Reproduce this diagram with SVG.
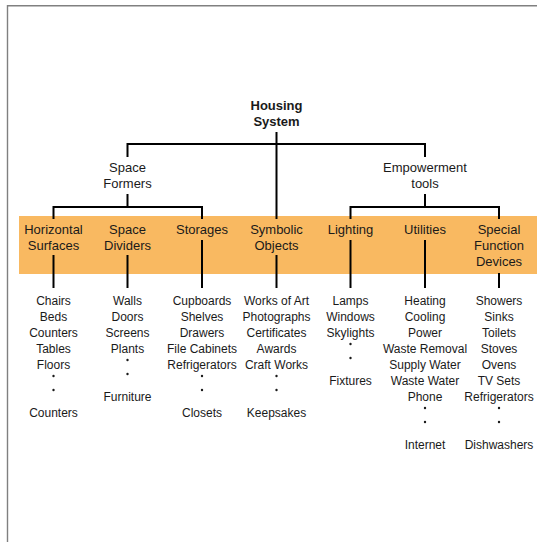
<svg xmlns="http://www.w3.org/2000/svg" width="537" height="542" viewBox="0 0 537 542">
<style>
text{font-family:"Liberation Sans",Arial,sans-serif;fill:#1a1a1a;text-anchor:middle}
.t{font-size:13px}
.b{font-size:13px;font-weight:bold}
.l{font-size:12px}
.c path{stroke:#000;stroke-width:2;fill:none}
.d{fill:#1a1a1a}
</style>
<defs><circle id="dot" r="1.2" class="d"/></defs>
<rect width="537" height="542" fill="#fff"/>
<path d="M7.5,542 V5.7 H537" stroke="#808080" stroke-width="1.4" fill="none"/>
<rect id="band" x="19" y="216" width="518" height="58" fill="#F9B961"/>
<g class="c" id="connectors">
<path d="M276.5,132 V219"/>
<path d="M127.5,157 V144 H425 V157"/>
<path d="M127.5,194 V207"/>
<path d="M53.5,219 V207 H202 V219"/>
<path d="M425,194 V207"/>
<path d="M350.5,219 V207 H499 V219"/>
<path d="M53.5,255 V288"/>
<path d="M127.5,255 V288"/>
<path d="M202,240 V288"/>
<path d="M276.5,255 V288"/>
<path d="M350.5,240 V288"/>
<path d="M425,240 V288"/>
<path d="M499,273 V288"/>
</g>
<g id="housing"><text class="b" x="276.5" y="110">Housing</text><text class="b" x="276.5" y="126">System</text></g>
<g id="space-formers"><text class="t" x="127.5" y="172">Space</text><text class="t" x="127.5" y="188">Formers</text></g>
<g id="empowerment"><text class="t" x="425" y="172">Empowerment</text><text class="t" x="425" y="188">tools</text></g>
<g id="horizontal"><text class="t" x="53.5" y="234">Horizontal</text><text class="t" x="53.5" y="250">Surfaces</text></g>
<g id="dividers"><text class="t" x="127.5" y="234">Space</text><text class="t" x="127.5" y="250">Dividers</text></g>
<g id="storages"><text class="t" x="202" y="234">Storages</text></g>
<g id="symbolic"><text class="t" x="276.5" y="234">Symbolic</text><text class="t" x="276.5" y="250">Objects</text></g>
<g id="lighting"><text class="t" x="350.5" y="234">Lighting</text></g>
<g id="utilities"><text class="t" x="425" y="234">Utilities</text></g>
<g id="special"><text class="t" x="499" y="234">Special</text><text class="t" x="499" y="250">Function</text><text class="t" x="499" y="266">Devices</text></g>
<g id="list-horizontal">
<text class="l" x="53.5" y="305">Chairs</text><text class="l" x="53.5" y="321">Beds</text><text class="l" x="53.5" y="337">Counters</text><text class="l" x="53.5" y="353">Tables</text><text class="l" x="53.5" y="369">Floors</text>
<use href="#dot" x="53.5" y="376"/><use href="#dot" x="53.5" y="390"/><text class="l" x="53.5" y="417">Counters</text>
</g>
<g id="list-dividers">
<text class="l" x="127.5" y="305">Walls</text><text class="l" x="127.5" y="321">Doors</text><text class="l" x="127.5" y="337">Screens</text><text class="l" x="127.5" y="353">Plants</text>
<use href="#dot" x="127.5" y="360"/><use href="#dot" x="127.5" y="374"/><text class="l" x="127.5" y="401">Furniture</text>
</g>
<g id="list-storages">
<text class="l" x="202" y="305">Cupboards</text><text class="l" x="202" y="321">Shelves</text><text class="l" x="202" y="337">Drawers</text><text class="l" x="202" y="353">File Cabinets</text><text class="l" x="202" y="369">Refrigerators</text>
<use href="#dot" x="202" y="376"/><use href="#dot" x="202" y="390"/><text class="l" x="202" y="417">Closets</text>
</g>
<g id="list-symbolic">
<text class="l" x="276.5" y="305">Works of Art</text><text class="l" x="276.5" y="321">Photographs</text><text class="l" x="276.5" y="337">Certificates</text><text class="l" x="276.5" y="353">Awards</text><text class="l" x="276.5" y="369">Craft Works</text>
<use href="#dot" x="276.5" y="376"/><use href="#dot" x="276.5" y="390"/><text class="l" x="276.5" y="417">Keepsakes</text>
</g>
<g id="list-lighting">
<text class="l" x="350.5" y="305">Lamps</text><text class="l" x="350.5" y="321">Windows</text><text class="l" x="350.5" y="337">Skylights</text>
<use href="#dot" x="350.5" y="344"/><use href="#dot" x="350.5" y="358"/><text class="l" x="350.5" y="385">Fixtures</text>
</g>
<g id="list-utilities">
<text class="l" x="425" y="305">Heating</text><text class="l" x="425" y="321">Cooling</text><text class="l" x="425" y="337">Power</text><text class="l" x="425" y="353">Waste Removal</text><text class="l" x="425" y="369">Supply Water</text><text class="l" x="425" y="385">Waste Water</text><text class="l" x="425" y="401">Phone</text>
<use href="#dot" x="425" y="408"/><use href="#dot" x="425" y="422"/><text class="l" x="425" y="449">Internet</text>
</g>
<g id="list-special">
<text class="l" x="499" y="305">Showers</text><text class="l" x="499" y="321">Sinks</text><text class="l" x="499" y="337">Toilets</text><text class="l" x="499" y="353">Stoves</text><text class="l" x="499" y="369">Ovens</text><text class="l" x="499" y="385">TV Sets</text><text class="l" x="499" y="401">Refrigerators</text>
<use href="#dot" x="499" y="408"/><use href="#dot" x="499" y="422"/><text class="l" x="499" y="449">Dishwashers</text>
</g>
</svg>
